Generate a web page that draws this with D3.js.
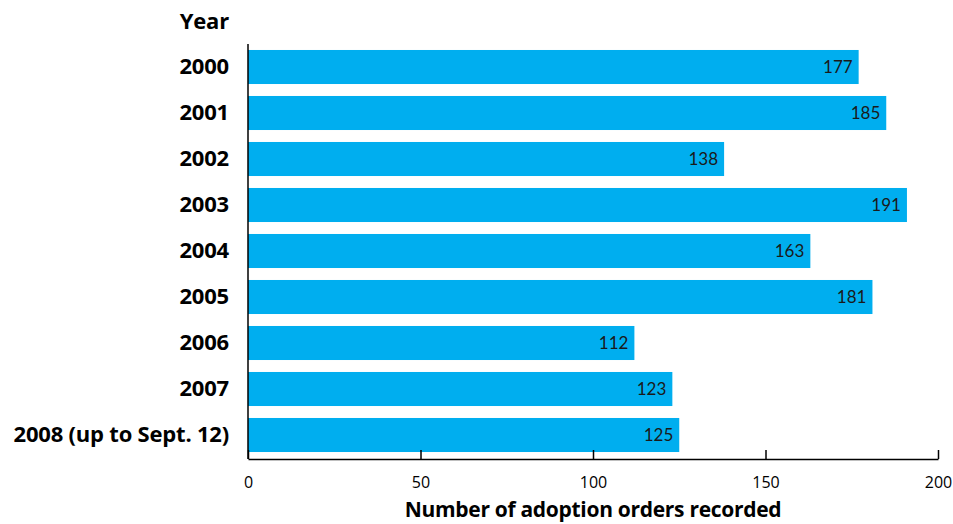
<!DOCTYPE html>
<html><head><meta charset="utf-8">
<script src="https://cdn.jsdelivr.net/npm/d3@7"></script>
<style>body{margin:0;background:#fff}</style>
</head><body>
<svg id="c" width="953" height="524"></svg>
<script>
const categories = ["2000","2001","2002","2003","2004","2005","2006","2007","2008 (up to Sept. 12)"];
const values = [177,185,138,191,163,181,112,123,125];
const tickValues = [0,50,100,150,200];

const svg = d3.select("#c");
const x = d3.scaleLinear().domain([0,200]).range([248,938]);
const y = d3.scaleBand().domain(categories).range([44,458]).paddingInner(0.26).paddingOuter(0.13);

svg.selectAll("rect.bar").data(values).join("rect")
  .attr("class","bar")
  .attr("x", x(0))
  .attr("y", (d,i)=>y(categories[i]))
  .attr("width", d=>x(d)-x(0))
  .attr("height", y.bandwidth())
  .attr("fill","#00AEEF");

svg.selectAll("text.val").data(values).join("text")
  .attr("class","val")
  .attr("x", d=>x(d)-6)
  .attr("y", (d,i)=>y(categories[i])+y.bandwidth()/2)
  .attr("dy","0.36em")
  .attr("text-anchor","end")
  .attr("font-family","Lato, 'DejaVu Sans', sans-serif")
  .attr("font-size",17)
  .attr("fill","#1a1a1a")
  .text(d=>d);

// category labels
svg.selectAll("text.cat").data(categories).join("text")
  .attr("class","cat")
  .attr("x",229)
  .attr("y", d=>y(d)+y.bandwidth()/2)
  .attr("dy","0.34em")
  .attr("text-anchor","end")
  .attr("font-family","'Open Sans', sans-serif")
  .attr("font-weight","bold")
  .attr("font-size",22)
  .attr("letter-spacing","-0.2")
  .attr("fill","#000")
  .text(d=>d);

svg.append("text").attr("x",229).attr("y",29).attr("text-anchor","end")
  .attr("font-family","'Open Sans', sans-serif").attr("font-weight","bold")
  .attr("letter-spacing","-0.2")
  .attr("font-size",22).text("Year");

// y axis line
svg.append("line").attr("x1",x(0)).attr("x2",x(0)).attr("y1",44).attr("y2",459)
  .attr("stroke","#000").attr("stroke-width",1.5);

// x axis
const xa = svg.append("g").attr("transform","translate(0,459)")
  .call(d3.axisBottom(x).tickValues(tickValues).tickSize(-9).tickSizeOuter(0).tickPadding(18));
xa.select(".domain").attr("stroke","#000").attr("stroke-width",1.5);
xa.selectAll(".tick line").attr("stroke","#000").attr("stroke-width",1.5);
xa.selectAll(".tick text").attr("font-family","'Open Sans', sans-serif").attr("font-size",16).attr("fill","#000");

svg.append("text").attr("x",593).attr("y",517).attr("text-anchor","middle")
  .attr("font-family","'Open Sans', sans-serif").attr("font-weight","bold")
  .attr("letter-spacing","-0.3")
  .attr("font-size",21).text("Number of adoption orders recorded");
</script>
</body></html>
